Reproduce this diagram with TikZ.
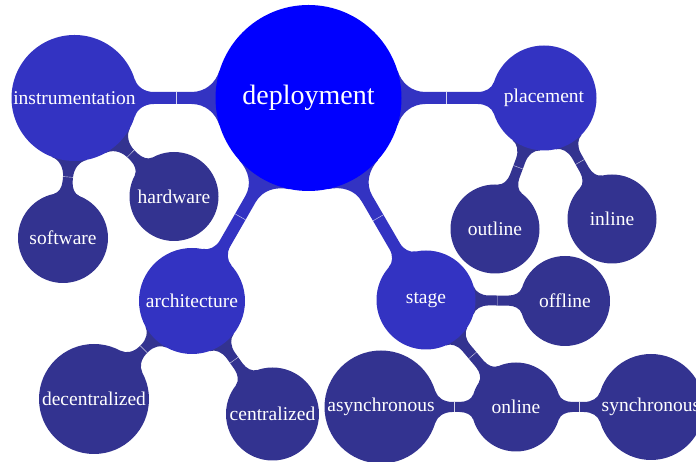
\documentclass[tikz,border=0pt]{standalone}
\usepackage{fontspec}
\setmainfont{Liberation Serif}
\usetikzlibrary{calc}
\pgfdeclarelayer{bg}
\pgfsetlayers{bg,main}
\definecolor{rootblue}{HTML}{0000FF}
\definecolor{lvonec}{HTML}{3333C2}
\definecolor{lvtwoc}{HTML}{333390}
\tikzset{
  rootc/.style={circle, fill=rootblue, text=white, inner sep=0pt,
    font=\fontsize{28}{30}\selectfont},
  lvone/.style={circle, fill=lvonec, text=white, inner sep=0pt,
    font=\fontsize{19.5}{22}\selectfont},
  lvtwo/.style={circle, fill=lvtwoc, text=white, inner sep=0pt,
    font=\fontsize{19.5}{22}\selectfont},
  seam/.style={draw=white, line width=0.4pt, opacity=0.8}
}
% connection bar from node #1 to node #2, colour #3, half width #4, flare angle #5
\newcommand\cbar[5]{%
 \fill[#3] let \p1=(#1.center), \p2=(#2.center), \p3=(#1.east), \p4=(#2.east),
   \n1={atan2(\y2-\y1,\x2-\x1)}, \n2={\n1+180},
   \n3={\x3-\x1}, \n4={\x4-\x2},
   \n5={\n3*(cos(#5)+0.3)}, \n6={\n4*(cos(#5)+0.3)},
   \n7={0.6*(\n3*sin(#5)-#4)}, \n8={0.6*(\n4*sin(#5)-#4)},
   \n9={0.15*\n3}, \n{cb}={0.15*\n4} in
  (\p1) -- ($(\p1)+(\n1+#5:\n3)$)
  .. controls ($(\p1)+(\n1+#5:\n3)+(\n1+#5-90:\n7)$)
         and ($(\p1)+(\n1:\n5)+(\n1+90:#4)+(\n2:\n9)$)
  .. ($(\p1)+(\n1:\n5)+(\n1+90:#4)$)
  -- ($(\p2)+(\n2:\n6)+(\n2-90:#4)$)
  .. controls ($(\p2)+(\n2:\n6)+(\n2-90:#4)+(\n1:\n{cb})$)
         and ($(\p2)+(\n2-#5:\n4)+(\n2-#5+90:\n8)$)
  .. ($(\p2)+(\n2-#5:\n4)$)
  -- (\p2)
  -- ($(\p2)+(\n2+#5:\n4)$)
  .. controls ($(\p2)+(\n2+#5:\n4)+(\n2+#5-90:\n8)$)
         and ($(\p2)+(\n2:\n6)+(\n2+90:#4)+(\n1:\n{cb})$)
  .. ($(\p2)+(\n2:\n6)+(\n2+90:#4)$)
  -- ($(\p1)+(\n1:\n5)+(\n1-90:#4)$)
  .. controls ($(\p1)+(\n1:\n5)+(\n1-90:#4)+(\n2:\n9)$)
         and ($(\p1)+(\n1-#5:\n3)+(\n1-#5+90:\n7)$)
  .. ($(\p1)+(\n1-#5:\n3)$) -- cycle;
 \draw[seam] let \p1=(#1.center), \p2=(#2.center), \p3=(#1.east), \p4=(#2.east),
   \n1={atan2(\y2-\y1,\x2-\x1)}, \n3={\x3-\x1}, \n4={\x4-\x2},
   \n5={veclen(\x2-\x1,\y2-\y1)} in
  ($(\p1)+(\n1:{(\n5+\n3-\n4)/2})+(\n1+90:#4)$) --
  ($(\p1)+(\n1:{(\n5+\n3-\n4)/2})+(\n1-90:#4)$);
}
\begin{document}
\begin{tikzpicture}[x=1pt,y=1pt]
\useasboundingbox (0,0) rectangle (696,462);
% root
\node[rootc, minimum size=186pt] (dep) at (308.5,364) {deployment};
% level 1
\node[lvone, minimum size=126pt] (instr) at (74.5,364) {instrumentation};
\node[lvone, minimum size=105pt] (place) at (544,364) {placement};
\node[lvone, minimum size=106pt] (arch) at (192,161) {architecture};
\node[lvone, minimum size=99pt] (stage) at (426,162) {stage};
% level 2
\node[lvtwo, minimum size=90pt] (soft) at (63,224) {software};
\node[lvtwo, minimum size=89pt] (hard) at (174,265.5) {hardware};
\node[lvtwo, minimum size=89pt] (outl) at (495,233) {outline};
\node[lvtwo, minimum size=89pt] (inl) at (612,243) {inline};
\node[lvtwo, minimum size=110pt] (decen) at (94,63) {decentralized};
\node[lvtwo, minimum size=93pt] (cen) at (272.5,48) {centralized};
\node[lvtwo, minimum size=90pt] (offl) at (565,161) {offline};
\node[lvtwo, minimum size=89pt] (onl) at (516,55) {online};
\node[lvtwo, minimum size=113pt] (async) at (381,55) {asynchronous};
\node[lvtwo, minimum size=106pt] (sync) at (651,55) {synchronous};
\begin{pgfonlayer}{bg}
\cbar{dep}{instr}{lvonec}{6}{17}
\cbar{dep}{place}{lvonec}{6}{17}
\cbar{dep}{arch}{lvonec}{6}{18}
\cbar{dep}{stage}{lvonec}{6}{18}
\cbar{instr}{soft}{lvtwoc}{5}{16}
\cbar{instr}{hard}{lvtwoc}{5}{16}
\cbar{place}{outl}{lvtwoc}{5}{16}
\cbar{place}{inl}{lvtwoc}{5}{16}
\cbar{arch}{decen}{lvtwoc}{5}{16}
\cbar{arch}{cen}{lvtwoc}{5}{16}
\cbar{stage}{offl}{lvtwoc}{5}{16}
\cbar{stage}{onl}{lvtwoc}{5}{16}
\cbar{onl}{async}{lvtwoc}{5}{16}
\cbar{onl}{sync}{lvtwoc}{5}{16}
\end{pgfonlayer}
\end{tikzpicture}
\end{document}
